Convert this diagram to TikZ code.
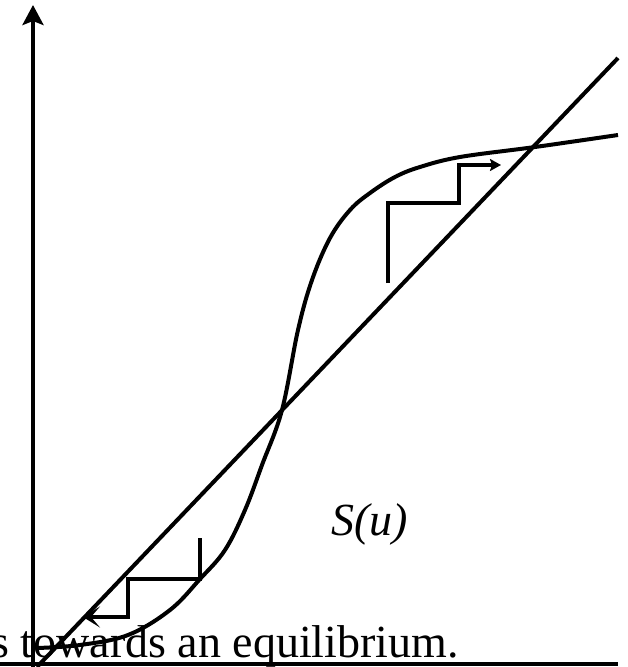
\documentclass[tikz,border=0pt]{standalone}
\usepackage{fontspec}
\setmainfont{Liberation Serif}
\usetikzlibrary{arrows.meta}
\tikzset{
  bigtext/.style={anchor=base west,inner sep=0pt,font=\fontsize{46}{50}\selectfont},
  curve/.style={line width=4pt,line join=miter}
}
\begin{document}
\begin{tikzpicture}[x=1pt,y=-1pt]
  \useasboundingbox (0,0) rectangle (628,667);
  \clip (0,0) rectangle (628,667);
  \node[bigtext] (caption) at (-9,657) {s towards an equilibrium.};
  \draw[curve,-{Stealth[length=20pt,width=21pt,inset=4pt]}] (33,667) -- (33,5);
  \draw[curve] (0,664) -- (618,664);
  \draw[curve] (37,667) -- (618,58);
  \draw[curve] plot[smooth,tension=0.6] coordinates {(37,648) (80,645) (128,635) (170,610) (200,579)
    (225,550) (245,510) (262,465) (282,410) (298,330) (312,280) (330,238) (350,210) (370,193)
    (395,177) (420,167) (460,157) (535,147) (618,135)};
  \draw[curve,-{Stealth[length=17pt,width=21pt,inset=9pt]}] (200,538) -- (200,579) -- (128,579) -- (128,617) -- (83,617);
  \draw[curve,-{Stealth[length=11pt,width=12pt,inset=2pt]}] (388,283) -- (388,203) -- (459,203) -- (459,165) -- (501,165);
  \node[bigtext,font=\fontsize{46}{50}\selectfont\itshape] (su) at (331,535) {S(u)};
\end{tikzpicture}
\end{document}
